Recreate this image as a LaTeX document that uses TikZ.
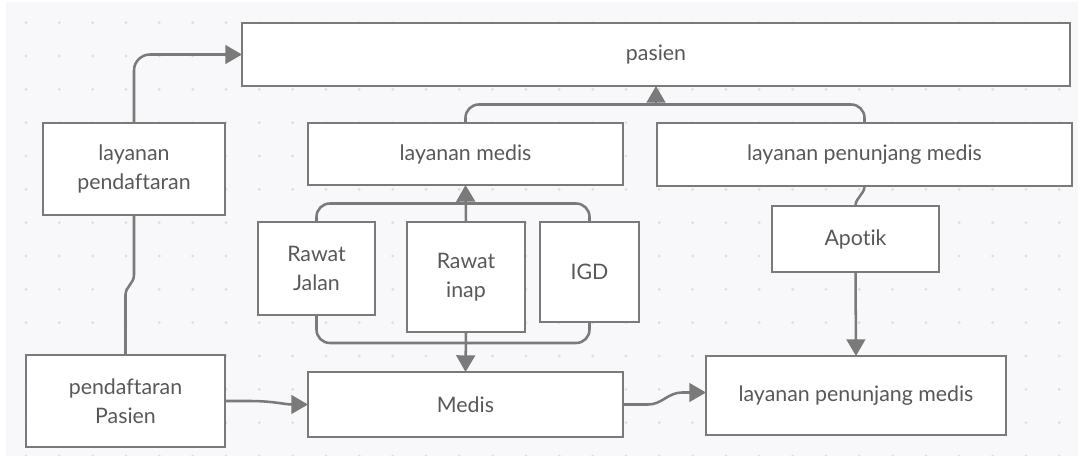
\documentclass[tikz,border=0pt]{standalone}
\usepackage{fontspec}
\setmainfont{Lato}[RawFeature=-liga]
\usetikzlibrary{arrows.meta,calc}
\definecolor{bgc}{HTML}{F8F8FA}
\definecolor{dotc}{HTML}{DCDCE0}
\definecolor{lc}{HTML}{7A7A7A}
\definecolor{tc}{HTML}{585858}
\tikzset{
  bx/.style={draw=lc, fill=white, line width=1.6pt, inner sep=0pt, outer sep=0pt,
    text=tc, align=center, font=\fontsize{16}{22}\selectfont},
  conn/.style={draw=lc, line width=1.9pt},
  arr/.style={conn, -{Triangle[length=12.5pt,width=14pt]}},
}
\newcommand\bxnode[6]{%
  \node[bx, minimum width={(#4-#2)*0.75pt}, minimum height={(#5-#3)*0.75pt}]
    (#1) at ({(#2+#4)/2},{(#3+#5)/2}) {#6};}
\begin{document}
\begin{tikzpicture}[x=0.75pt,y=-0.75pt]
\useasboundingbox (0,0) rectangle (1085,456);
\fill[bgc] (6,2) rectangle (1078,456);
\foreach \i in {0,...,31} {
  \foreach \j in {0,...,13} {
    \fill[dotc] ({26+33.33*\i},{22.7+33.33*\j}) circle (1.1pt);
  }
}
% boxes
\bxnode{pa}{242}{23}{1070}{86}{pasien}
\bxnode{lp}{43}{123}{225}{215}{layanan\\pendaftaran}
\bxnode{lm}{308}{123}{623}{185}{layanan medis}
\bxnode{lpt}{657}{123}{1072}{186}{layanan penunjang medis}
\bxnode{rj}{258}{222}{375}{315}{Rawat\\Jalan}
\bxnode{ri}{407}{222}{525}{332}{Rawat\\inap}
\bxnode{ig}{540}{222}{639}{322}{IGD}
\bxnode{ap}{772}{206}{939}{272}{Apotik}
\bxnode{pp}{26}{355}{225}{447}{pendaftaran\\Pasien}
\bxnode{md}{308}{372}{623}{437}{Medis}
\bxnode{lpb}{706}{356}{1006}{435}{layanan penunjang medis}
% helper coordinates
\coordinate (mt) at ($(pa.south)!0.5!(pa.south|-lm.north)$);
\coordinate (mu) at ($(ri.north)!0.5!(lm.south)$);
\coordinate (ml) at ($(ri.south)+(0,11)$);
% connectors
\draw[conn] (pp.north) -- ++(0,-60) to[out=90,in=-90] ++(8.5,-20) -- (lp.south);
\draw[arr, rounded corners=12pt] (lp.north) |- (pa.west);
\draw[conn, rounded corners=10pt] (lm.north) |- (mt);
\draw[conn, rounded corners=10pt] (lpt.north) |- (mt);
\draw[arr] (mt) -- (pa.south);
\draw[conn, rounded corners=10pt] (rj.north) |- (mu);
\draw[conn, rounded corners=10pt] (ig.north) |- (mu);
\draw[arr] (ri.north) -- (lm.south);
\draw[conn, rounded corners=10pt] (rj.south) |- (ml);
\draw[conn, rounded corners=10pt] (ig.south) |- (ml);
\draw[arr] (ri.south) -- (md.north);
\draw[conn] (lpt.south) to[out=-90,in=90] (ap.north);
\draw[arr] (ap.south) -- (lpb.north);
\draw[arr] (pp.east) -- ++(25,0) to[out=0,in=180] (md.west);
\draw[arr] (md.east) -- ++(25,0) to[out=0,in=180] ($(lpb.west)+(-24,-3)$) -- ($(lpb.west)+(0,-3)$);
\end{tikzpicture}
\end{document}
